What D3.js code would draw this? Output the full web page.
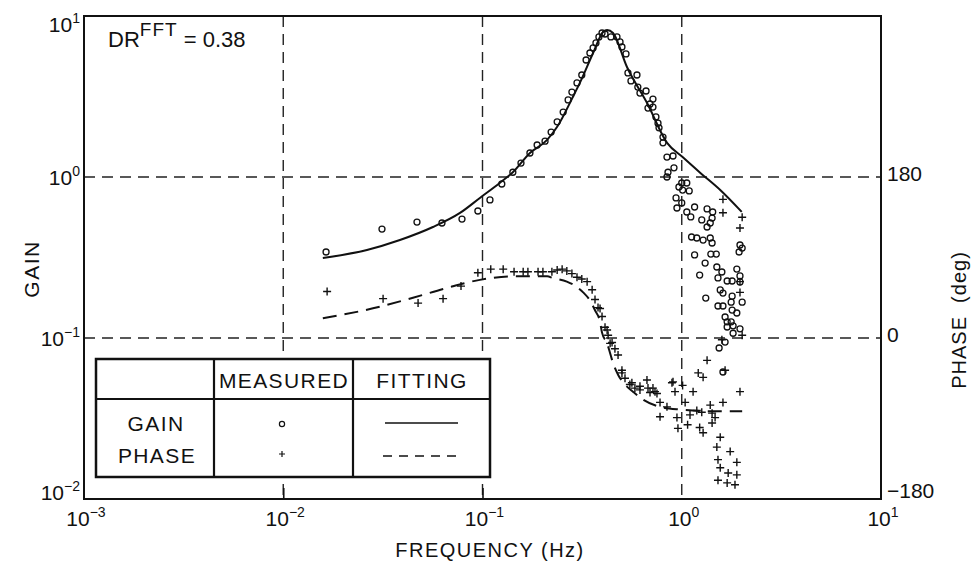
<!DOCTYPE html>
<html>
<head>
<meta charset="utf-8">
<script src="https://cdn.jsdelivr.net/npm/d3@7"></script>
<style>
  body { margin: 0; background: #fff; }
  text { font-family: "Liberation Sans", Arial, sans-serif; fill: #111; }
</style>
</head>
<body>
<div class="container"></div>
<script>
// frequency (Hz), gain
const GAIN_FIT = [
  [0.0158,0.314],[0.0263,0.352],[0.0385,0.406],[0.0564,0.489],[0.0771,0.598],[0.097,0.741],
  [0.122,0.918],[0.142,1.07],[0.173,1.41],[0.211,1.70],[0.237,2.05],[0.284,3.14],[0.308,3.84],
  [0.359,5.89],[0.403,7.95],[0.422,8.19],[0.452,7.84],[0.531,4.82],[0.670,2.88],[0.844,1.63],
  [1.01,1.33],[1.24,1.06],[1.56,0.830],[2.00,0.607]
];
// frequency (Hz), phase (deg)
const PHASE_FIT = [
  [0.0158,22],[0.0306,35],[0.0448,45],[0.0664,56],[0.097,65],[0.142,69],[0.211,69],[0.226,67],
  [0.265,63],[0.298,57],[0.320,51],[0.346,42],[0.367,31],[0.389,18],[0.398,6],[0.422,-6],
  [0.437,-17],[0.452,-28],[0.479,-41],[0.519,-52],[0.569,-60],[0.640,-69],[0.778,-77],
  [0.980,-80],[1.56,-82],[2.01,-82]
];
const GAIN_MEASURED = [
  [0.0164,0.342],[0.0313,0.475],[0.0469,0.525],[0.0626,0.518],[0.0789,0.548],[0.0948,0.615],
  [0.109,0.720],[0.125,0.905],[0.142,1.07],[0.156,1.22],[0.173,1.41],[0.188,1.58],[0.206,1.67],
  [0.221,1.90],[0.237,2.20],[0.254,2.53],[0.269,3.01],[0.281,3.37],[0.298,3.84],[0.315,4.30],
  [0.331,5.33],[0.346,5.89],[0.359,6.33],[0.371,6.80],[0.384,7.41],[0.398,7.84],[0.412,7.73],
  [0.441,7.41],[0.473,7.41],[0.490,6.90],[0.501,6.42],[0.525,5.81],[0.537,4.43],[0.596,4.30],
  [0.556,3.95],[0.602,3.62],[0.662,3.42],[0.617,3.32],[0.717,3.05],[0.693,2.84],[0.717,2.72],
  [0.677,2.68],[0.742,2.36],[0.760,2.16],[0.769,2.02],[0.805,1.77],[0.805,1.63],[0.843,1.33],
  [0.904,1.35],[0.853,1.07],[0.843,1.00],[0.914,1.14],[0.968,0.867],[0.936,0.741],[0.946,0.642],
  [1.00,0.918],[1.06,0.918],[1.01,0.830],[1.09,0.819],[1.00,0.690],[1.06,0.606],[1.11,0.565],
  [1.16,0.651],[1.26,0.541],[1.34,0.633],[1.43,0.606],[1.42,0.556],[1.34,0.489],[1.39,0.518],
  [1.96,0.378],[2.01,0.362],[1.94,0.342],[1.12,0.424],[1.19,0.418],[1.28,0.406],[1.39,0.418],
  [1.42,0.389],[1.16,0.328],[1.40,0.332],[1.49,0.332],[1.31,0.292],[1.50,0.276],[1.23,0.246],
  [1.59,0.257],[1.52,0.236],[1.69,0.226],[1.79,0.226],[1.89,0.268],[1.96,0.243],[1.96,0.223],
  [1.32,0.177],[1.56,0.199],[1.61,0.190],[1.79,0.182],[2.01,0.167],[1.52,0.158],[1.61,0.158],
  [1.77,0.167],[1.79,0.149],[1.65,0.135],[1.89,0.143],[1.69,0.126],[1.77,0.126],[1.81,0.119],
  [1.96,0.114],[1.69,0.117],[1.81,0.107],[1.65,0.0944],[1.54,0.0867],[1.61,0.0615]
];
const PHASE_MEASURED = [
  [0.0166,52],[0.0317,44],[0.0475,39],[0.0634,44],[0.078,58],[0.0948,73],[0.110,77],[0.127,77],
  [0.144,74],[0.160,74],[0.169,74],[0.190,74],[0.201,74],[0.223,74],[0.237,76],[0.251,77],
  [0.265,75],[0.281,72],[0.298,68],[0.315,66],[0.335,63],[0.355,54],[0.367,43],[0.380,34],
  [0.389,33],[0.398,24],[0.412,12],[0.422,9],[0.427,3],[0.437,-6],[0.447,-5],[0.462,-12],
  [0.479,-19],[0.501,-36],[0.501,-39],[0.519,-45],[0.549,-52],[0.562,-50],[0.582,-56],
  [0.617,-58],[0.617,-54],[0.669,-47],[0.677,-56],[0.693,-61],[0.717,-56],[0.734,-60],
  [0.751,-62],[0.778,-72],[0.778,-88],[0.843,-77],[0.893,-50],[0.904,-49],[0.925,-60],
  [0.946,-89],[0.957,-101],[1.04,-72],[1.01,-53],[1.07,-97],[1.10,-86],[1.14,-60],[1.21,-39],
  [1.28,-44],[1.19,-81],[1.26,-83],[1.23,-100],[1.28,-106],[1.34,-25],[1.39,-75],[1.42,-84],
  [1.47,-89],[1.42,-95],[1.56,-111],[1.50,-122],[1.75,-127],[1.52,-136],[1.89,-139],
  [1.56,-145],[1.71,-151],[1.89,-153],[1.52,-159],[1.69,-162],[1.85,-164],[1.61,-72],
  [1.96,-60],[1.65,-36],[1.59,-2],[2.01,3],[1.96,51],[1.96,63],[1.96,123],[2.01,135],
  [1.61,140],[1.61,155]
];

const FREQ_TICKS = [1e-3, 1e-2, 1e-1, 1e0, 1e1];
const FREQ_EXP = ["\u22123", "\u22122", "\u22121", "0", "1"];
const GAIN_TICKS = [1e-2, 1e-1, 1e0, 1e1];
const GAIN_EXP = ["\u22122", "\u22121", "0", "1"];
const PHASE_TICKS = [-180, 0, 180];
const PHASE_LABELS = ["\u2212180", "0", "180"];

const W = 972, H = 561;
const L = 84, R = 881, T = 16, B = 499;

let x = d3.scaleLog().domain([1e-3, 10]).range([L, R]);
let y = d3.scaleLog().domain([1e-2, 10]).range([B, T]);
let yPhase = d3.scaleLinear().domain([-180, 180]).range([B, y(1)]);

const svg = d3.select(".container").append("svg")
  .attr("width", W).attr("height", H);

svg.append("rect").attr("width", W).attr("height", H).attr("fill", "#fff");

// dashed grid
svg.selectAll(".vgrid").data([1e-2, 1e-1, 1e0]).enter().append("line")
  .attr("x1", d => x(d)).attr("x2", d => x(d))
  .attr("y1", T).attr("y2", B)
  .attr("stroke", "#222").attr("stroke-width", 1.4)
  .attr("stroke-dasharray", "11,7");
svg.selectAll(".hgrid").data([1e-1, 1e0]).enter().append("line")
  .attr("x1", L).attr("x2", R)
  .attr("y1", d => y(d)).attr("y2", d => y(d))
  .attr("stroke", "#222").attr("stroke-width", 1.4)
  .attr("stroke-dasharray", "11,7");

// bottom inner ticks
let xAxis = svg.append("g").attr("transform", `translate(0,${B})`)
  .call(d3.axisTop(x).tickValues([1e-2, 1e-1]).tickSize(11).tickFormat(""));
xAxis.select(".domain").remove();
xAxis.selectAll("line").attr("stroke", "#111").attr("stroke-width", 1.6);

// fitted curves
let line = d3.line().curve(d3.curveMonotoneX);
svg.append("path")
  .attr("d", line(GAIN_FIT.map(d => [x(d[0]), y(d[1])])))
  .attr("fill", "none").attr("stroke", "#111").attr("stroke-width", 2);
svg.append("path")
  .attr("d", line(PHASE_FIT.map(d => [x(d[0]), yPhase(d[1])])))
  .attr("fill", "none").attr("stroke", "#111").attr("stroke-width", 2)
  .attr("stroke-dasharray", "14,8");

// measured points
svg.selectAll(".gain-pt").data(GAIN_MEASURED).enter().append("circle")
  .attr("cx", d => x(d[0])).attr("cy", d => y(d[1])).attr("r", 3)
  .attr("fill", "none").attr("stroke", "#111").attr("stroke-width", 1.3);
svg.selectAll(".phase-pt").data(PHASE_MEASURED).enter().append("path")
  .attr("transform", d => `translate(${x(d[0])},${yPhase(d[1])})`)
  .attr("d", "M-4,0H4M0,-4V4")
  .attr("stroke", "#111").attr("stroke-width", 1.4);

// frame
svg.append("rect").attr("x", L).attr("y", T).attr("width", R - L).attr("height", B - T)
  .attr("fill", "none").attr("stroke", "#111").attr("stroke-width", 2);

// legend table
const lg = svg.append("g");
lg.append("rect").attr("x", 96).attr("y", 359).attr("width", 394).attr("height", 118)
  .attr("fill", "#fff").attr("stroke", "#111").attr("stroke-width", 2.5);
lg.append("line").attr("x1", 96).attr("x2", 490).attr("y1", 399).attr("y2", 399)
  .attr("stroke", "#111").attr("stroke-width", 2.2);
[214, 353].forEach(cx => lg.append("line").attr("x1", cx).attr("x2", cx)
  .attr("y1", 359).attr("y2", 477).attr("stroke", "#111").attr("stroke-width", 2.2));
const legText = (t, tx, ty) => lg.append("text").attr("x", tx).attr("y", ty)
  .attr("text-anchor", "middle").attr("font-size", 21).attr("letter-spacing", 1.4).text(t);
legText("MEASURED", 284, 388);
legText("FITTING", 422, 388);
legText("GAIN", 156, 431);
legText("PHASE", 157, 463);
lg.append("circle").attr("cx", 282).attr("cy", 424).attr("r", 2.6)
  .attr("fill", "none").attr("stroke", "#111").attr("stroke-width", 1.2);
lg.append("path").attr("d", "M279,454H285M282,451V457").attr("stroke", "#111").attr("stroke-width", 1.2);
lg.append("line").attr("x1", 385).attr("x2", 458).attr("y1", 423).attr("y2", 423)
  .attr("stroke", "#111").attr("stroke-width", 1.6);
lg.append("line").attr("x1", 383).attr("x2", 461).attr("y1", 456).attr("y2", 456)
  .attr("stroke", "#111").attr("stroke-width", 1.6).attr("stroke-dasharray", "9,7");

// power of ten labels
function powLabel(px, py, exp, anchor) {
  let t = svg.append("text").attr("x", px).attr("y", py)
    .attr("text-anchor", anchor).attr("font-size", 21);
  t.append("tspan").text("10");
  t.append("tspan").attr("dy", -9).attr("font-size", 14).text(exp);
}
FREQ_TICKS.forEach((v, i) => powLabel(x(v) + 2, 526, FREQ_EXP[i], "middle"));
GAIN_TICKS.forEach((v, i) => {
  let py = y(v) + 8;
  if (v === 10) py = 32;
  if (v === 1e-2) py = 500;
  powLabel(80, py, GAIN_EXP[i], "end");
});
PHASE_TICKS.forEach((v, i) => {
  let py = yPhase(v) + 4;
  if (v === -180) py = 498;
  svg.append("text").attr("x", 887).attr("y", py).attr("font-size", 21).text(PHASE_LABELS[i]);
});

// annotation
let dr = svg.append("text").attr("x", 108).attr("y", 47).attr("font-size", 22)
  .attr("xml:space", "preserve").style("white-space", "pre");
dr.append("tspan").text("DR");
dr.append("tspan").attr("dy", -11).attr("font-size", 19).attr("letter-spacing", 1).text("FFT");
dr.append("tspan").attr("dy", 11).text(" = 0.38");

// axis titles
svg.append("text").attr("x", 490).attr("y", 557).attr("text-anchor", "middle")
  .attr("font-size", 20).attr("letter-spacing", 1.5).text("FREQUENCY (Hz)");
svg.append("text").attr("transform", "translate(39,269) rotate(-90)")
  .attr("text-anchor", "middle").attr("font-size", 21).attr("letter-spacing", 1.5).text("GAIN");
svg.append("text").attr("transform", "translate(966,320) rotate(-90)")
  .attr("text-anchor", "middle").attr("font-size", 20).attr("letter-spacing", 1)
  .attr("xml:space", "preserve").style("white-space", "pre").text("PHASE  (deg)");
</script>
</body>
</html>
